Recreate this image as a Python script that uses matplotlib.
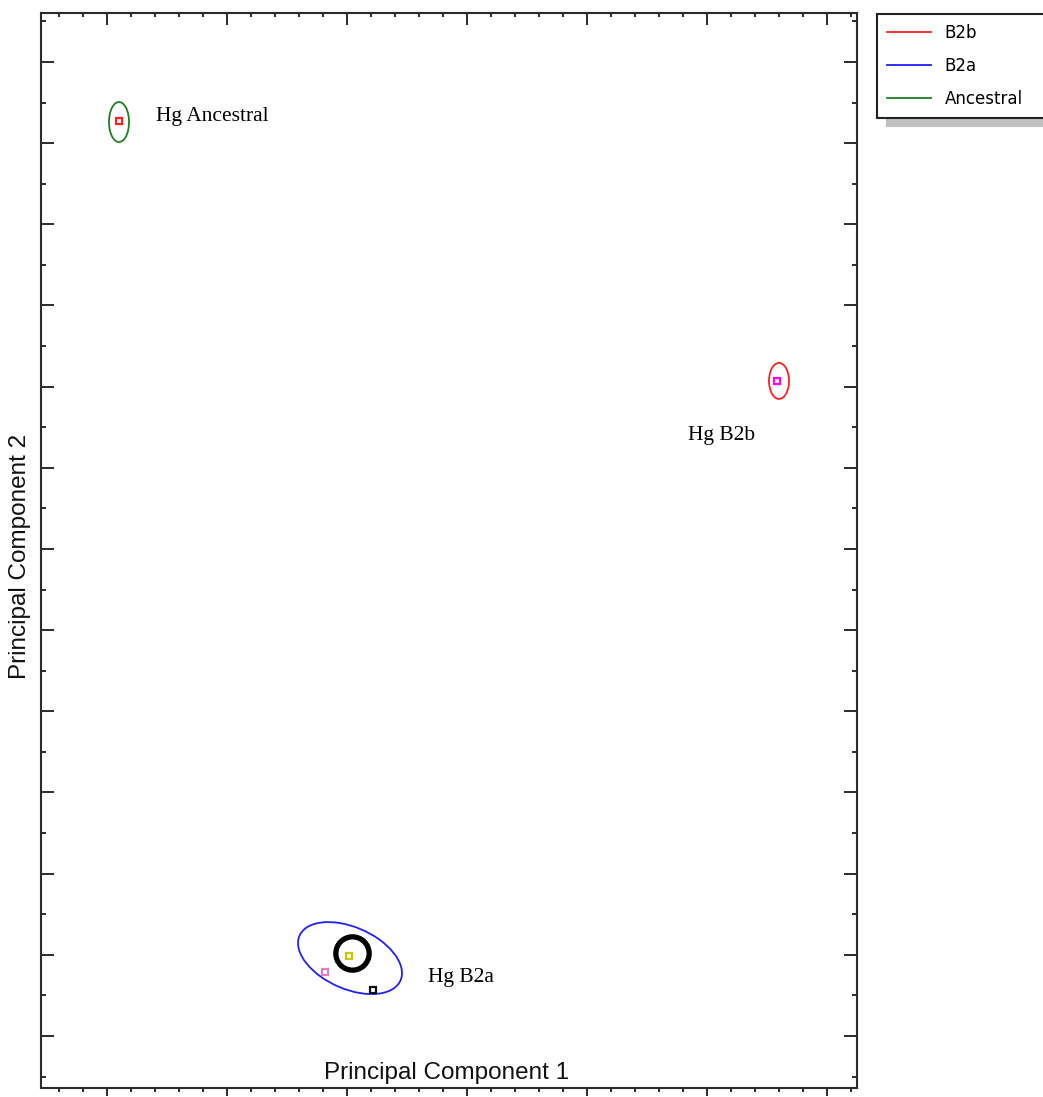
import numpy as np
import matplotlib.pyplot as plt
from matplotlib.patches import Ellipse
from matplotlib.lines import Line2D

# group ellipses (centre, width, height, angle) in PC units
groups = ["B2b", "B2a", "Ancestral"]
group_colors = ["#ff2020", "#2020ff", "#208020"]
ell_x = [5.60, 2.025, 0.10]
ell_y = [8.07, 0.96, 11.26]
ell_w = [0.167, 1.044, 0.167]
ell_h = [0.444, 0.669, 0.493]
ell_ang = [0.0, -46.6, 0.0]

# sample points
pt_x = [0.10, 5.583, 2.017, 1.817, 2.217]
pt_y = [11.27, 8.07, 0.986, 0.788, 0.567]
pt_colors = ["#ff2020", "#ff00ff", "#c8c800", "#e080c0", "#101010"]

# highlighted sample
hl_x, hl_y = 2.042, 1.023

labels = ["Hg Ancestral", "Hg B2b", "Hg B2a"]
lab_x = [0.408, 4.842, 2.675]
lab_y = [11.27, 7.343, 0.665]

fig = plt.figure(figsize=(10.43, 10.97), dpi=100)
ax = fig.add_axes([41/1043, 1-1088/1097, 816/1043, 1075/1097])
ax.set_xlim(-0.55, 6.25)
ax.set_ylim(-0.6406, 12.603)

for i in range(len(groups)):
    ax.add_patch(Ellipse((ell_x[i], ell_y[i]), ell_w[i], ell_h[i], angle=ell_ang[i],
                         fill=False, edgecolor=group_colors[i], lw=1.3))

for x, y, c in zip(pt_x, pt_y, pt_colors):
    ax.plot(x, y, marker='s', ms=5, mfc='none', mec=c, mew=1.6)

ax.plot(hl_x, hl_y, marker='o', ms=24, mfc='none', mec='black', mew=3.8)

for t, x, y in zip(labels, lab_x, lab_y):
    ax.text(x, y, t, family='Liberation Serif', fontsize=15.5, va='baseline', ha='left')

ax.text(0.4975, 0.014, "Principal Component 1", transform=ax.transAxes,
        ha='center', va='center', family='Liberation Sans', fontsize=17.5, color='#111111')
fig.text(20/1043, 1-556/1097, "Principal Component 2", rotation=90,
         ha='center', va='center', family='Liberation Sans', fontsize=17.5, color='#111111')

# ticks
ax.set_xticks(np.arange(0, 7, 1))
ax.set_xticks(np.arange(-0.4, 6.25, 0.2), minor=True)
ax.set_yticks(np.arange(0, 13, 1))
ax.set_yticks(np.arange(-0.5, 12.6, 0.5), minor=True)
ax.set_xticklabels([])
ax.set_yticklabels([])
sc = '#2b2b2b'
ax.tick_params(axis='x', which='major', direction='out', length=5.8, width=1.4, color=sc)
ax.tick_params(axis='x', which='minor', direction='out', length=2.9, width=1.4, color=sc)
ax.tick_params(axis='y', which='major', direction='in', length=9.4, width=1.4, color=sc,
               left=True, right=True)
ax.tick_params(axis='y', which='minor', direction='in', length=3.6, width=1.4, color=sc,
               left=True, right=True)
top = ax.secondary_xaxis('top')
top.set_xticks(np.arange(0, 7, 1))
top.set_xticks(np.arange(-0.4, 6.25, 0.2), minor=True)
top.set_xticklabels([])
top.tick_params(which='major', direction='in', length=8.6, width=1.4, color=sc)
top.tick_params(which='minor', direction='in', length=2.9, width=1.4, color=sc)
top.spines['top'].set_visible(False)
for s in ax.spines.values():
    s.set_linewidth(1.5)
    s.set_color(sc)

handles = [Line2D([], [], color=c, lw=1.3) for c in group_colors]
leg = fig.legend(handles, groups, loc='upper left',
                 bbox_to_anchor=(877/1043, 1-119/1097, 190/1043, 105/1097),
                 mode='expand', borderaxespad=0, fancybox=False,
                 prop={'family': 'DejaVu Sans', 'size': 12},
                 handlelength=2.6, handletextpad=0.85, labelspacing=0.88, borderpad=0.62,
                 shadow={'ox': 7, 'oy': -6, 'color': '#c0c0c0', 'alpha': 1})
leg.get_frame().set_edgecolor('#222222')
leg.get_frame().set_linewidth(1.5)

fig.savefig('out.png', dpi=100)
